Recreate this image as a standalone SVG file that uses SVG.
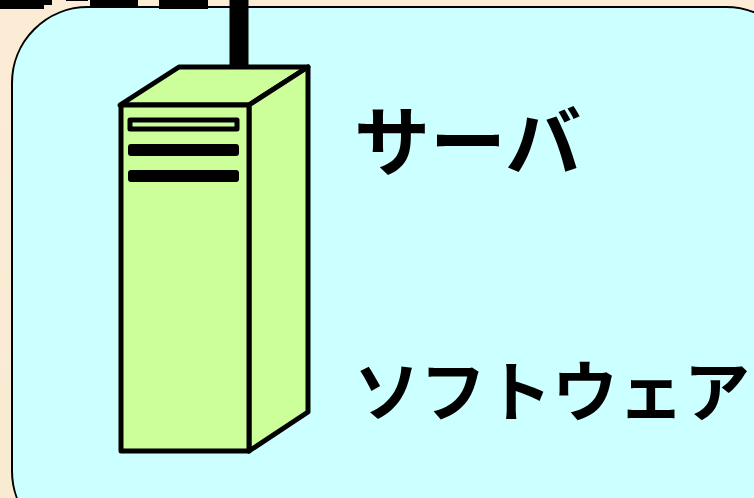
<svg xmlns="http://www.w3.org/2000/svg" width="754" height="498" viewBox="0 0 754 498">
<style>
.k{stroke:#000;stroke-linejoin:round;fill:#ccff99}
.t{font-family:"Noto Sans CJK JP","Noto Sans",sans-serif;font-weight:700;fill:#000}
</style>
<defs>
<linearGradient id="bg" x1="0" y1="0" x2="0" y2="1"><stop offset="0" stop-color="#fcecd6"/><stop offset="1" stop-color="#f9ead2"/></linearGradient>
</defs>
<rect width="754" height="498" fill="url(#bg)"/>
<g id="panel"><rect x="12" y="7" width="790" height="540" rx="76" ry="76" fill="#ccffff" stroke="#000" stroke-width="2"/></g>
<g id="connectors"><path d="M239 0V66" stroke="#000" stroke-width="19" fill="none"/></g>
<g id="server">
<path class="k" stroke-width="5" d="M120 105L179 67H308L249 105Z"/>
<path class="k" stroke-width="5" d="M249 105L308 67V412L249 451Z"/>
<rect class="k" stroke-width="5" x="121" y="105" width="128" height="346"/>
<rect class="k" stroke-width="5" x="130" y="120" width="107" height="9"/>
<rect class="k" stroke-width="6" x="131" y="147" width="105" height="6"/>
<rect class="k" stroke-width="6" x="131" y="173" width="105" height="6"/>
</g>
<g id="label-server"><text class="t" x="354" y="170" font-size="76">サーバ</text></g>
<g id="label-software"><text class="t" x="354" y="416" font-size="66" font-weight="500">ソフトウェア</text></g>
<g id="clipped-title">
<path d="M0 0H52V5H44V9H0ZM66 0H88V1H66ZM90 0H138V8H90ZM159 0H208V9H159Z" fill="#000"/>
</g>
</svg>
